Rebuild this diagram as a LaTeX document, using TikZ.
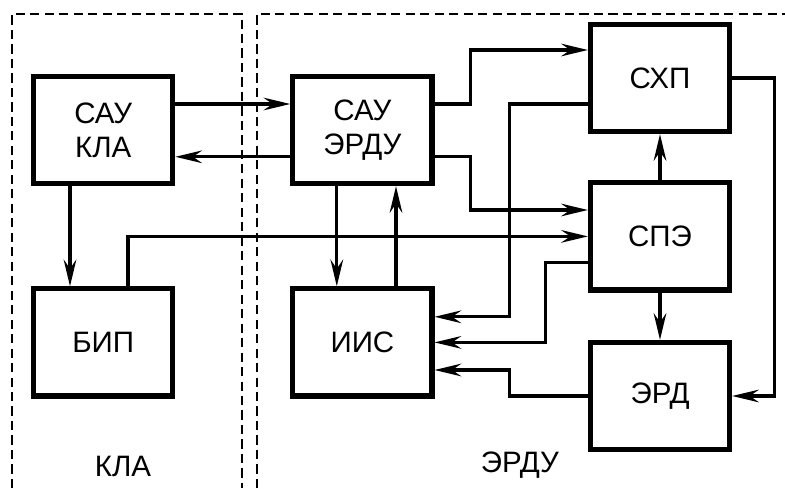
\documentclass[tikz,border=0pt]{standalone}
\usepackage{fontspec}
\setmainfont{Liberation Sans}
\usetikzlibrary{arrows.meta, positioning, calc}

\begin{document}
\begin{tikzpicture}[x=1cm,y=1cm,
    blok/.style={draw, line width=3.6pt, minimum width=3.48cm, minimum height=2.68cm,
      align=center, font=\fontsize{21}{24}\selectfont},
    link/.style={line width=2.3pt, -{Stealth[length=19pt, width=9pt, inset=6.5pt]}},
    zone/.style={line width=2pt, dash pattern=on 6.5pt off 3.8pt},
    tag/.style={font=\fontsize{21}{24}\selectfont}]
  \useasboundingbox (0,0) rectangle (19.625,12.2);

  % frames
  \draw[zone] (0.3,0) -- (0.3,11.85) -- (6.05,11.85) -- (6.05,0);
  \draw[zone] (6.425,0) -- (6.425,11.85) -- (19.625,11.85);

  % blocks
  \node[blok] (kla)  at (2.58,8.95)  {САУ\\КЛА};
  \node[blok] (erdu) at (9.06,8.95)  {САУ\\ЭРДУ};
  \node[blok] (bip)  at (2.58,3.64)  {БИП};
  \node[blok] (iis)  at (9.06,3.64)  {ИИС};
  \node[blok] (shp)  at (16.5,10.25) {СХП};
  \node[blok] (spe)  at (16.5,6.29)  {СПЭ};
  \node[blok] (erd)  at (16.5,2.3)   {ЭРД};

  \node[tag] (lkla)  at (3.075,0.53) {КЛА};
  \node[tag] (lerdu) at (13.0,0.57)  {ЭРДУ};

  % links
  \draw[link] ([yshift=0.65cm]kla.east) -- ([yshift=0.65cm]erdu.west);
  \draw[link] ([yshift=-0.67cm]erdu.west) -- ([yshift=-0.67cm]kla.east);
  \draw[link] ([xshift=-0.83cm]kla.south) -- ([xshift=-0.83cm]bip.north);
  \draw[link] ([xshift=0.62cm]bip.north) |- (spe.west);
  \draw[link] ([xshift=-0.64cm]erdu.south) -- ([xshift=-0.64cm]iis.north);
  \draw[link] ([xshift=0.84cm]iis.north) -- ([xshift=0.84cm]erdu.south);
  \draw[link] ([yshift=0.65cm]erdu.east) -- ++(0.9,0) |- ([yshift=0.7cm]shp.west);
  \draw[link] ([yshift=-0.67cm]erdu.east) -- ++(0.9,0) |- ([yshift=0.66cm]spe.west);
  \draw[link] ([yshift=-0.65cm]shp.west) -- ++(-1.96,0) |- ([yshift=0.64cm]iis.east);
  \draw[link] ([yshift=-0.66cm]spe.west) -- ++(-1.06,0) |- (iis.east);
  \draw[link] (erd.west) -- ++(-1.96,0) |- ([yshift=-0.69cm]iis.east);
  \draw[link] (spe.north) -- (shp.south);
  \draw[link] (spe.south) -- (erd.north);
  \draw[link] (shp.east) -- ++(1.06,0) |- (erd.east);
\end{tikzpicture}
\end{document}
